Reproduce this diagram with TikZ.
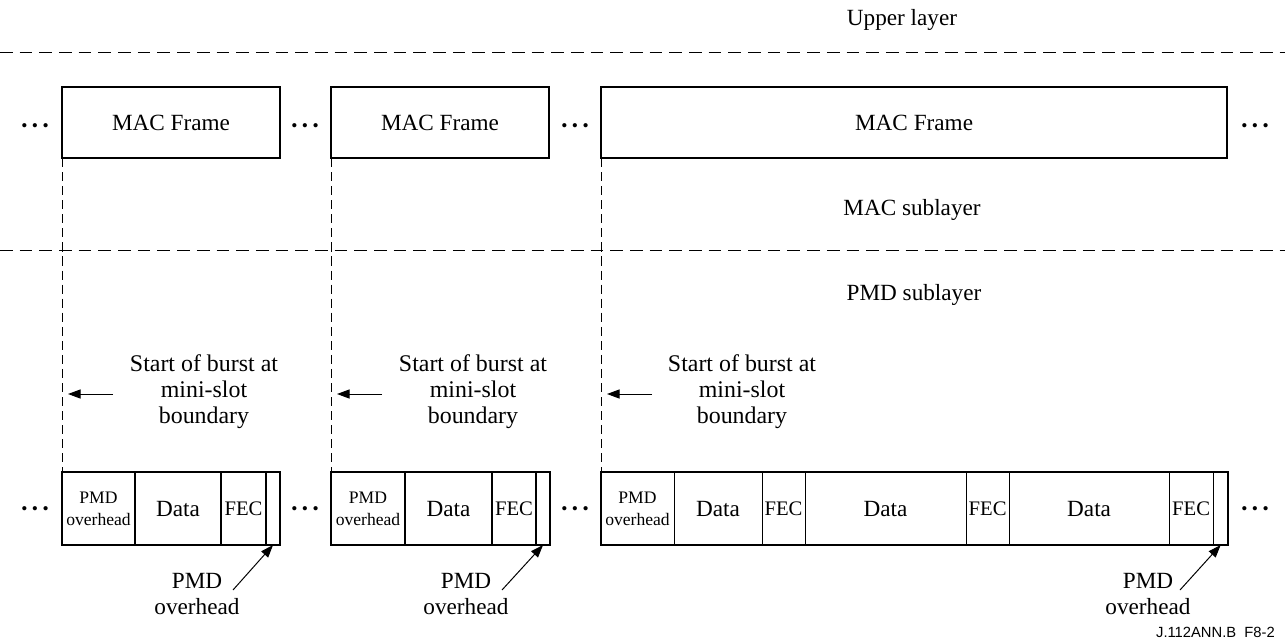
\documentclass[tikz,border=0pt]{standalone}
\usepackage{fontspec}
\setmainfont{Liberation Serif}
\newfontfamily\labelsans{Liberation Sans}
\usetikzlibrary{positioning,arrows.meta}

\begin{document}
\begin{tikzpicture} [
    x=0.025cm, y=-0.025cm,
    line width=0.7pt,
    font=\fontsize{16.5}{18.5}\selectfont,
  ]

  \tikzstyle{macframe} = [
    draw,
    line width=1.6pt,
    minimum height=1.775cm,
    inner sep=0pt,
    outer sep=0pt,
    anchor=north west,
  ]
  \tikzstyle{seg} = [
    draw,
    line width=1.6pt,
    minimum height=1.825cm,
    inner sep=0pt,
    outer sep=0pt,
  ]
  \tikzstyle{thinseg} = [
    seg,
    line width=0.7pt,
  ]
  \tikzstyle{ovh} = [
    align=center,
    font=\fontsize{12.5}{15.5}\selectfont,
  ]
  \tikzstyle{fec} = [
    font=\fontsize{14.7}{16}\selectfont,
  ]
  \tikzstyle{layerline} = [
    dash pattern=on 9pt off 5pt,
    line width=0.7pt,
  ]
  \tikzstyle{bound} = [
    dash pattern=on 6.5pt off 3.5pt,
    line width=0.6pt,
  ]
  \tikzstyle{pointer} = [
    -{Triangle[length=9pt,width=6.5pt]},
    line width=0.7pt,
  ]
  \tikzstyle{dots} = [
    font=\fontsize{12.5}{12.5}\selectfont,
    inner sep=0pt,
  ]
  \tikzstyle{note} = [
    align=center,
    font=\fontsize{17}{18.5}\selectfont,
  ]

  \useasboundingbox (0,0) rectangle (1285,641);

  % layers
  \node (upper)  at (902,20)  {Upper layer};
  \node (macsub) at (912,210) {MAC sublayer};
  \node (pmdsub) at (914,295) {PMD sublayer};

  \coordinate (l1a) at (0,52);
  \coordinate (l1b) at (1285,52);
  \coordinate (l2a) at (0,250);
  \coordinate (l2b) at (1285,250);
  \draw[layerline] (l1a) -- (l1b);
  \draw[layerline] (l2a) -- (l2b);

  % MAC frames
  \node[macframe,minimum width=5.45cm]  (mac1) at (62,87)  {MAC Frame};
  \node[macframe,minimum width=5.45cm]  (mac2) at (331,87) {MAC Frame};
  \node[macframe,minimum width=15.65cm] (mac3) at (601,87) {MAC Frame};

  \foreach \x/\n in {35/a,305/b,575/c,1255/d} {
    \node[dots] (dtop\n) at (\x,128) {\textbullet\hspace{3.2pt}\textbullet\hspace{3.2pt}\textbullet};
    \node[dots] (dbot\n) at (\x,511) {\textbullet\hspace{3.2pt}\textbullet\hspace{3.2pt}\textbullet};
  }

  % first burst
  \node[seg,minimum width=1.825cm,anchor=north west] (p1a) at (62,472) {};
  \node[ovh] at (p1a) {PMD\\overhead};
  \node[seg,minimum width=2.15cm,right=0pt of p1a]  (p1b) {Data};
  \node[seg,fec,minimum width=1.125cm,right=0pt of p1b] (p1c) {FEC};
  \node[seg,minimum width=0.35cm,right=0pt of p1c]  (p1d) {};

  % second burst
  \node[seg,minimum width=1.85cm,anchor=north west] (p2a) at (331,472) {};
  \node[ovh] at (p2a) {PMD\\overhead};
  \node[seg,minimum width=2.175cm,right=0pt of p2a] (p2b) {Data};
  \node[seg,fec,minimum width=1.1cm,right=0pt of p2b]   (p2c) {FEC};
  \node[seg,minimum width=0.35cm,right=0pt of p2c]  (p2d) {};

  % third burst
  \node[thinseg,minimum width=1.825cm,anchor=north west] (p3a) at (601,472) {};
  \node[ovh] at (p3a) {PMD\\overhead};
  \node[thinseg,minimum width=2.2cm,right=0pt of p3a]   (p3b) {Data};
  \node[thinseg,fec,minimum width=1.075cm,right=0pt of p3b] (p3c) {FEC};
  \node[thinseg,minimum width=4.025cm,right=0pt of p3c] (p3d) {Data};
  \node[thinseg,fec,minimum width=1.075cm,right=0pt of p3d] (p3e) {FEC};
  \node[thinseg,minimum width=4.0cm,right=0pt of p3e]   (p3f) {Data};
  \node[thinseg,fec,minimum width=1.1cm,right=0pt of p3f]   (p3g) {FEC};
  \node[thinseg,minimum width=0.375cm,right=0pt of p3g] (p3h) {};
  \draw[line width=1.6pt] (p3a.north west) rectangle (p3h.south east);

  % burst boundaries
  \draw[bound] (mac1.south west) -- (p1a.north west);
  \draw[bound] (mac2.south west) -- (p2a.north west);
  \draw[bound] (mac3.south west) -- (p3a.north west);

  \node[note] (start1) at (204,392) {Start of burst at\\mini-slot\\boundary};
  \node[note] (start2) at (473,392) {Start of burst at\\mini-slot\\boundary};
  \node[note] (start3) at (742,392) {Start of burst at\\mini-slot\\boundary};

  \coordinate (s1t) at (113,394);
  \coordinate (s1h) at (68,394);
  \coordinate (s2t) at (382,394);
  \coordinate (s2h) at (337,394);
  \coordinate (s3t) at (652,394);
  \coordinate (s3h) at (607,394);
  \draw[pointer] (s1t) -- (s1h);
  \draw[pointer] (s2t) -- (s2h);
  \draw[pointer] (s3t) -- (s3h);

  % trailing overhead
  \node[note,font=\fontsize{16.5}{19}\selectfont] (ovh1) at (197,594)  {PMD\\overhead};
  \node[note,font=\fontsize{16.5}{19}\selectfont] (ovh2) at (466,594)  {PMD\\overhead};
  \node[note,font=\fontsize{16.5}{19}\selectfont] (ovh3) at (1148,594) {PMD\\overhead};

  \coordinate (o1t) at (233,590);
  \coordinate (o2t) at (502,590);
  \coordinate (o3t) at (1180,590);
  \draw[pointer] (o1t) -- (p1d.south);
  \draw[pointer] (o2t) -- (p2d.south);
  \draw[pointer] (o3t) -- (p3h.south);

  \node[anchor=east,font=\labelsans\fontsize{10.5}{12}\selectfont] (fig) at (1280,632) {J.112ANN.B\ \ F8-2};

\end{tikzpicture}
\end{document}
